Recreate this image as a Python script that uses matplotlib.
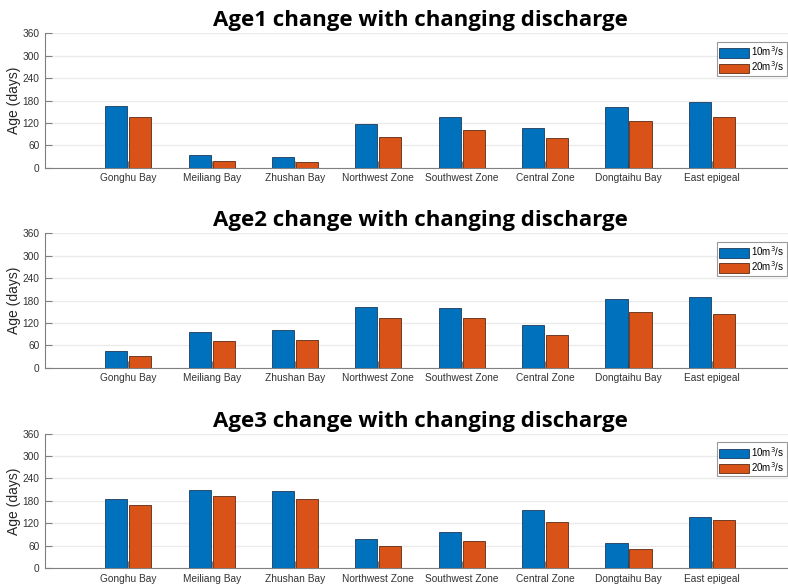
import matplotlib
matplotlib.use("Agg")
import matplotlib.pyplot as plt
import numpy as np

plt.rcParams["font.family"] = ["Liberation Sans", "DejaVu Sans"]

# region names and ages (days) for the two discharge cases
regions = ["Gonghu Bay", "Meiliang Bay", "Zhushan Bay", "Northwest Zone",
           "Southwest Zone", "Central Zone", "Dongtaihu Bay", "East epigeal"]

age1_10 = [165, 34, 29, 117, 135, 106, 164, 176]
age1_20 = [135, 18, 14, 82, 101, 79, 124, 136]

age2_10 = [45, 96, 101, 163, 161, 114, 185, 190]
age2_20 = [30, 72, 74, 134, 132, 88, 149, 144]

age3_10 = [186, 210, 207, 77, 96, 156, 68, 137]
age3_20 = [169, 193, 185, 59, 72, 123, 51, 130]

titles = ["Age1 change with changing discharge",
          "Age2 change with changing discharge",
          "Age3 change with changing discharge"]
legend_labels = ["10m$^3$/s", "20m$^3$/s"]
yticks = [0, 60, 120, 180, 240, 300, 360]

blue = "#0072BD"
orange = "#D95319"

fig = plt.figure(figsize=(7.88, 5.85), dpi=100)

bottoms = [0.7133, 0.3715, 0.029]
data = [(age1_10, age1_20), (age2_10, age2_20), (age3_10, age3_20)]

x = np.arange(1, len(regions) + 1)
w = 0.265
off = 0.144

for b, (v10, v20), t in zip(bottoms, data, titles):
    ax = fig.add_axes([0.0571, b, 0.952, 0.2296])
    ax.bar(x - off, v10, w, color=blue, edgecolor="#1f3a5a", linewidth=0.6,
           label=legend_labels[0], zorder=3)
    ax.bar(x + off, v20, w, color=orange, edgecolor="#5a2a14", linewidth=0.6,
           label=legend_labels[1], zorder=3)
    ax.set_xlim(0, 9)
    ax.set_ylim(0, 360)
    ax.set_yticks(yticks)
    ax.set_xticks(x)
    ax.set_xticklabels(regions)
    ax.yaxis.grid(True, color="#ebebeb", linewidth=1, zorder=0)
    ax.tick_params(direction="in", length=5, width=0.8, color="#808080",
                   labelsize=7.3, labelcolor="#333333")
    ax.tick_params(axis="x", pad=4)
    ax.tick_params(axis="y", pad=4)
    for s in ["top", "right"]:
        ax.spines[s].set_visible(False)
    for s in ["left", "bottom"]:
        ax.spines[s].set_color("#808080")
        ax.spines[s].set_linewidth(0.8)
    ax.set_ylabel("Age (days)", fontsize=10, color="#262626", labelpad=1)
    ax.set_title(t, fontsize=16, fontweight="bold", family="Open Sans", pad=5)
    leg = ax.legend(loc="upper right", bbox_to_anchor=(0.989, 0.936),
                    fontsize=7, frameon=True, fancybox=False,
                    handlelength=3.1, handleheight=1.1, handletextpad=0.2,
                    borderpad=0.25, labelspacing=0.15, borderaxespad=0)
    leg.get_frame().set_edgecolor("#808080")
    leg.get_frame().set_linewidth(0.8)

fig.savefig("out.png", dpi=100)
